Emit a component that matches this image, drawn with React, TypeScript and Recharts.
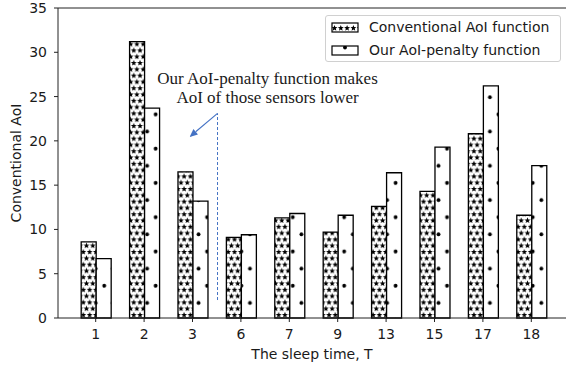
import React from 'react';
import { BarChart, Bar, XAxis, YAxis, ReferenceLine, ReferenceDot, Legend } from 'recharts';

// ---- data ----
const categories = ['1', '2', '3', '6', '7', '9', '13', '15', '17', '18'];
const conventionalAoI = [8.6, 31.2, 16.5, 9.1, 11.3, 9.7, 12.6, 14.3, 20.8, 11.6];
const penaltyAoI = [6.7, 23.7, 13.2, 9.4, 11.8, 11.6, 16.4, 19.3, 26.2, 17.2];
const yTicks = [0, 5, 10, 15, 20, 25, 30, 35];
const seriesNames = ['Conventional AoI function', 'Our AoI-penalty function'];
const axisTitles = ['The sleep time, T', 'Conventional AoI'];
const annotationLines = ['Our AoI-penalty function makes', 'AoI of those sensors lower'];
// annotation anchor points in (category position index, value) coordinates
const annotationText = { x: 3.55, y: 26.42 };
const dashedLine = [{ x: 2.517, y: 2.03 }, { x: 2.517, y: 23.11 }];
const arrowLine = [{ x: 2.517, y: 23.11 }, { x: 1.94, y: 20.44 }];

const data = categories.map((t, i) => ({ t, idx: i, conv: conventionalAoI[i], pen: penaltyAoI[i] }));

const SANS = 'DejaVu Sans, sans-serif';
const SERIF = 'Liberation Serif, Times New Roman, serif';
const INK = '#1a1a1a';
const BLUE = '#4472C4';
const FS = 14;

function starPoints(cx: number, cy: number, R: number, r: number) {
  const pts: string[] = [];
  for (let k = 0; k < 10; k++) {
    const a = -Math.PI / 2 + (k * Math.PI) / 5;
    const rad = k % 2 === 0 ? R : r;
    pts.push(`${(cx + rad * Math.cos(a)).toFixed(2)},${(cy + rad * Math.sin(a)).toFixed(2)}`);
  }
  return pts.join(' ');
}

const SW = 6.3; // star spacing
const SR = 3.05;
const Sr = 1.35;
const DW = 17.14; // dot spacing
const DR = 1.9;

const Patterns = () => (
  <defs>
    <pattern id="starHatch" patternUnits="userSpaceOnUse" x={1.44} y={0} width={SW} height={SW * 2}>
      <rect x={0} y={0} width={SW} height={SW * 2} fill="#fff" />
      {[
        [0, 0], [SW, 0], [0, SW * 2], [SW, SW * 2], [SW / 2, SW],
      ].map(([x, y], i) => (
        <polygon key={i} points={starPoints(x, y, SR, Sr)} fill="#000" />
      ))}
    </pattern>
    <pattern id="dotHatch" patternUnits="userSpaceOnUse" x={0} y={0} width={DW} height={DW * 2}>
      <rect x={0} y={0} width={DW} height={DW * 2} fill="#fff" />
      <circle cx={1.44} cy={11.46} r={DR} fill="#000" />
      <circle cx={1.44 + DW} cy={11.46} r={DR} fill="#000" />
      <circle cx={1.44 + DW / 2} cy={11.46 + DW} r={DR} fill="#000" />
    </pattern>
  </defs>
);

const ArrowShape = (p: any) => {
  const { x1, y1, x2, y2 } = p;
  if ([x1, y1, x2, y2].some((v) => typeof v !== 'number' || isNaN(v))) return null;
  const dx = x2 - x1;
  const dy = y2 - y1;
  const len = Math.sqrt(dx * dx + dy * dy);
  const ux = dx / len;
  const uy = dy / len;
  const hl = 8;
  const hw = 3.5;
  const bx = x2 - ux * hl;
  const by = y2 - uy * hl;
  return (
    <g>
      <line x1={x1} y1={y1} x2={bx} y2={by} stroke={BLUE} strokeWidth={1.1} />
      <polygon
        points={`${x2},${y2} ${bx - uy * hw},${by + ux * hw} ${bx + uy * hw},${by - ux * hw}`}
        fill={BLUE}
      />
    </g>
  );
};

const AnnotationText = (p: any) => {
  const { cx, cy } = p;
  if (typeof cx !== 'number' || typeof cy !== 'number') return null;
  return (
    <text x={cx} y={cy} textAnchor="middle" fontFamily={SERIF} fontSize={17} fill={INK}>
      <tspan x={cx} dy={0}>{annotationLines[0]}</tspan>
      <tspan x={cx} dy={19.3}>{annotationLines[1]}</tspan>
    </text>
  );
};

const LegendPatch = ({ kind }: { kind: 'star' | 'dot' }) => (
  <svg width={28} height={11} style={{ display: 'block' }}>
    <defs>
      <clipPath id={`lc-${kind}`}>
        <rect x={1} y={1} width={26} height={9} />
      </clipPath>
    </defs>
    <rect x={1} y={1} width={26} height={9} fill="#fff" />
    <g clipPath={`url(#lc-${kind})`}>
      {kind === 'star'
        ? [0, 1, 2, 3, 4].map((i) => (
            <polygon key={i} points={starPoints(3.5 + i * 6.3, 6.2, 3.1, 1.35)} fill="#000" />
          ))
        : <circle cx={14} cy={2.5} r={1.9} fill="#000" />}
    </g>
    <rect x={1} y={1} width={26} height={9} fill="none" stroke="#000" strokeWidth={1.2} />
  </svg>
);

const LegendBox = () => (
  <div
    style={{
      width: 236,
      height: 47,
      boxSizing: 'border-box',
      border: '1px solid #d0d0d0',
      borderRadius: 3,
      background: 'rgba(255,255,255,0.85)',
      fontFamily: SANS,
      fontSize: FS,
      color: INK,
      position: 'relative',
    }}
  >
    {(['star', 'dot'] as const).map((k, i) => (
      <div
        key={k}
        style={{
          position: 'absolute',
          left: 5,
          top: 3 + i * 22.5,
          height: 17,
          display: 'flex',
          alignItems: 'center',
          whiteSpace: 'nowrap',
        }}
      >
        <LegendPatch kind={k} />
        <span style={{ marginLeft: 10, lineHeight: '17px' }}>{seriesNames[i]}</span>
      </div>
    ))}
  </div>
);

const YTitle = (p: any) => {
  const vb = p.viewBox || {};
  const cx = (vb.x ?? 0) + 16;
  const cy = (vb.y ?? 8) + (vb.height ?? 310) / 2;
  return (
    <text
      x={cx}
      y={cy}
      transform={`rotate(-90, ${cx}, ${cy})`}
      textAnchor="middle"
      dominantBaseline="central"
      fontFamily={SANS}
      fontSize={FS}
      fill={INK}
    >
      {axisTitles[1]}
    </text>
  );
};

const XTitle = (p: any) => {
  const vb = p.viewBox || {};
  const cx = (vb.x ?? 58) + (vb.width ?? 508) / 2;
  const cy = (vb.y ?? 318) + 41;
  return (
    <text x={cx} y={cy} textAnchor="middle" fontFamily={SANS} fontSize={FS} fill={INK}>
      {axisTitles[0]}
    </text>
  );
};

export default function App() {
  return (
    <div style={{ position: 'absolute', left: 0, top: 0, background: '#fff' }}>
      <BarChart
        width={566}
        height={370}
        data={data}
        margin={{ top: 8, right: 0, bottom: 0, left: 0 }}
        barCategoryGap="20%"
        barGap={0}
      >
        <Patterns />
        <XAxis
          dataKey="t"
          height={52}
          padding={{ left: 13.5, right: 10.5 }}
          tickSize={4}
          tickMargin={7}
          tick={{ fontSize: FS, fill: INK, fontFamily: SANS }}
          axisLine={{ stroke: '#222', strokeWidth: 1 }}
          tickLine={{ stroke: '#222', strokeWidth: 1 }}
          label={{ content: XTitle } as any}
        />
        <XAxis
          xAxisId="ann"
          dataKey="idx"
          type="number"
          domain={[0, 9]}
          padding={{ left: 37.7, right: 34.7 }}
          hide
          allowDataOverflow
        />
        <YAxis
          width={58}
          domain={[0, 35]}
          ticks={yTicks}
          interval={0}
          tickSize={4}
          tickMargin={7}
          tick={{ fontSize: FS, fill: INK, fontFamily: SANS }}
          axisLine={{ stroke: '#222', strokeWidth: 1 }}
          tickLine={{ stroke: '#222', strokeWidth: 1 }}
          label={{ content: YTitle } as any}
        />
        <ReferenceLine y={35} stroke="#222" strokeWidth={1} ifOverflow="visible" />
        <Bar dataKey="conv" fill="url(#starHatch)" stroke="#000" strokeWidth={1.3} isAnimationActive={false} />
        <Bar dataKey="pen" fill="url(#dotHatch)" stroke="#000" strokeWidth={1.3} isAnimationActive={false} />
        <ReferenceLine
          xAxisId="ann"
          segment={dashedLine}
          stroke={BLUE}
          strokeWidth={1}
          strokeDasharray="3 2"
          ifOverflow="visible"
        />
        <ReferenceLine xAxisId="ann" segment={arrowLine} ifOverflow="visible" shape={ArrowShape} />
        <ReferenceDot
          xAxisId="ann"
          x={annotationText.x}
          y={annotationText.y}
          r={0}
          ifOverflow="visible"
          shape={AnnotationText}
        />
        <Legend
          content={() => <LegendBox />}
          layout="horizontal"
          align="center"
          verticalAlign="middle"
          wrapperStyle={{ left: 325, top: 15, width: 236, height: 47, right: 'auto', bottom: 'auto' }}
        />
      </BarChart>
    </div>
  );
}
